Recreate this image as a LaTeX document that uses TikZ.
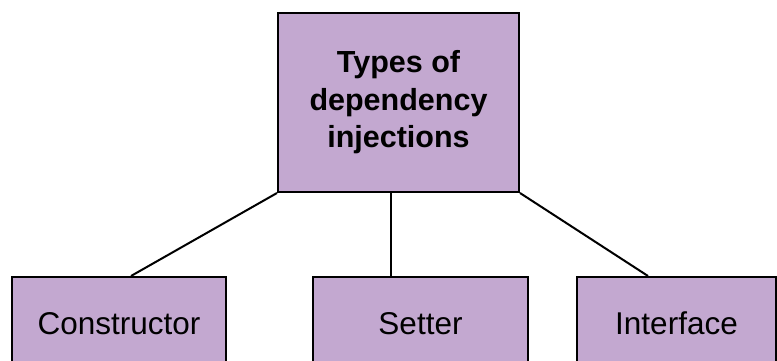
\documentclass[tikz,border=0pt]{standalone}
\usepackage{fontspec}
\setmainfont{Liberation Sans}
\definecolor{boxfill}{RGB}{195,168,208}
\begin{document}
\begin{tikzpicture}[x=1pt,y=-1pt,
  box/.style={draw=black, line width=2pt, fill=boxfill, inner sep=0pt},
  leaf/.style={box, minimum height=92pt, text height=22.5pt, text depth=0pt,
    font=\fontsize{31.5}{37}\selectfont},
  link/.style={draw=black, line width=2pt}]
\useasboundingbox (0,0) rectangle (777,360);

% root box
\node[box, minimum width=241pt, minimum height=179pt, align=center,
  font=\fontsize{30.5}{37.5}\selectfont\bfseries] (top) at (398.5,102.5)
  {Types of\\dependency\\injections};

% the three kinds
\node[leaf, minimum width=214pt] (ctor) at (119,323) {Constructor};
\node[leaf, minimum width=215pt] (setter) at (420.5,323) {Setter};
\node[leaf, minimum width=199pt] (iface) at (676.5,323) {Interface};

% connectors
\draw[link] (top.south west) -- ([xshift=12pt]ctor.north);
\draw[link] ([xshift=-7.5pt]top.south) -- ([xshift=-7.5pt]top.south |- setter.north);
\draw[link] (top.south east) -- ([xshift=-28.5pt]iface.north);
\end{tikzpicture}
\end{document}
